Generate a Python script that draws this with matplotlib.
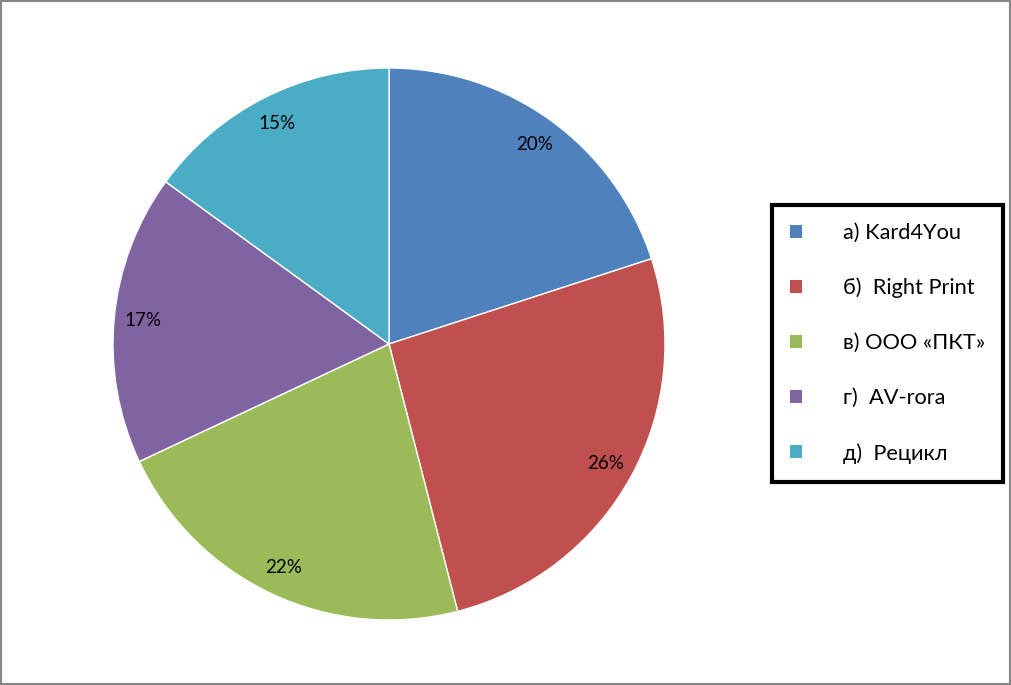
import matplotlib
matplotlib.use('Agg')
import matplotlib.pyplot as plt
from matplotlib.patches import Rectangle

plt.rcParams['font.family'] = ['Lato', 'DejaVu Sans']

# data
labels = ['а) Kard4You', 'б)  Right Print', 'в) ООО «ПКТ»', 'г)  AV-rora', 'д)  Рецикл']
shares = [20, 26, 22, 17, 15]
colors = ['#4F81BD', '#C0504D', '#9BBB59', '#8064A2', '#4BACC6']

W, H = 1012, 685
fig = plt.figure(figsize=(W / 100, H / 100), dpi=100)
ax = fig.add_axes([0, 0, 1, 1])

wedges, texts, autotexts = ax.pie(
    shares, colors=colors, startangle=90, counterclock=False,
    center=(389, H - 344), radius=276, frame=True,
    autopct='%.0f%%', pctdistance=0.895,
    wedgeprops=dict(edgecolor='white', linewidth=1),
    textprops=dict(fontsize=13.5, color='black'))
ax.set_xlim(0, W)
ax.set_ylim(0, H)
ax.set_aspect('equal')
ax.axis('off')

leg = ax.legend(wedges, labels, loc='upper left',
                bbox_to_anchor=(772 / W, (H - 205) / H), bbox_transform=fig.transFigure,
                borderaxespad=0, fontsize=15.7, frameon=True, fancybox=False,
                framealpha=1, handlelength=0.55, handleheight=0.55, handletextpad=1.88,
                labelspacing=1.6, borderpad=0.82)
leg.get_frame().set_edgecolor('black')
leg.get_frame().set_linewidth(3)
for h in leg.legend_handles:
    h.set_edgecolor('none')

# outer chart border
fig.patches.append(Rectangle((0.001, 0.002), 0.997, 0.996, transform=fig.transFigure,
                             fill=False, edgecolor='#868686', linewidth=1.5))

fig.savefig('out.png', dpi=100)
